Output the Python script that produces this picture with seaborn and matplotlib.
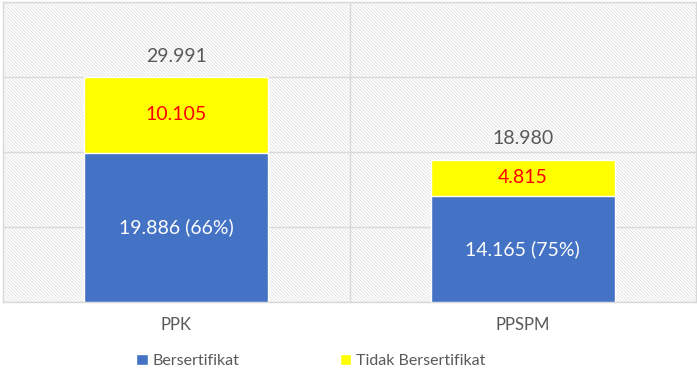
import matplotlib
matplotlib.use("Agg")
import matplotlib.pyplot as plt
from matplotlib.patches import Rectangle, Patch
import seaborn as sns
import pandas as pd

categories = ['PPK', 'PPSPM']
bersertifikat = [19886, 14165]
tidak_bersertifikat = [10105, 4815]
series_names = ['Bersertifikat', 'Tidak Bersertifikat']
y_ticks = [0, 10000, 20000, 30000, 40000]

blue = '#4472c4'
yellow = '#ffff00'
grey = '#d9d9d9'
text_grey = '#595959'

df = pd.DataFrame({'Kategori': categories,
                   'Bersertifikat': bersertifikat,
                   'Tidak Bersertifikat': tidak_bersertifikat})
df['Total'] = df['Bersertifikat'] + df['Tidak Bersertifikat']


def fmt(v):
    # indonesian thousands separator
    return f'{v:,}'.replace(',', '.')


sns.set_theme(style='white')
plt.rcParams['font.family'] = ['Lato', 'DejaVu Sans']
plt.rcParams['hatch.linewidth'] = 0.5

fig = plt.figure(figsize=(6.97, 3.79), dpi=100)
ax = fig.add_axes([3 / 697, 77 / 379, 693 / 697, 300 / 379])

# hatched background of the plot area
bg = Rectangle((0, 0), 1, 1, transform=ax.transAxes, facecolor='white',
               edgecolor='#dcdcdc', hatch='\\' * 10, lw=0, zorder=0)
ax.add_artist(bg)

sns.barplot(data=df, x='Kategori', y='Total', color=yellow, width=0.53,
            saturation=1, errorbar=None, ax=ax, zorder=2)
sns.barplot(data=df, x='Kategori', y='Bersertifikat', color=blue, width=0.53,
            saturation=1, errorbar=None, ax=ax, zorder=3)

ax.set_ylim(0, 40000)
ax.set_xlim(-0.5, 1.5)
ax.set_yticks(y_ticks)
ax.set_yticklabels([])
ax.yaxis.grid(True, color=grey, lw=1)
ax.set_axisbelow(True)
ax.axvline(0.5, color=grey, lw=1, zorder=0.6)
ax.tick_params(axis='y', length=0)
ax.tick_params(axis='x', length=0, pad=11, labelcolor=text_grey, labelsize=12)
ax.set_xlabel('')
ax.set_ylabel('')
for s in ax.spines.values():
    s.set_color(grey)
    s.set_linewidth(1)

for i, row in df.iterrows():
    b = row['Bersertifikat']
    t = row['Tidak Bersertifikat']
    tot = row['Total']
    pct = round(b / tot * 100)
    ax.text(i, tot + 2800, fmt(tot), ha='center', va='center',
            color=text_grey, fontsize=14, zorder=5)
    ax.text(i, b + t / 2, fmt(t), ha='center', va='center',
            color='#ff0000', fontsize=14, zorder=5)
    ax.text(i, b / 2, f'{fmt(b)} ({pct}%)', ha='center', va='center',
            color='white', fontsize=14, zorder=5)

handles = [Patch(facecolor=blue), Patch(facecolor=yellow)]
fig.legend(handles, series_names, loc='center left',
           bbox_to_anchor=(122 / 697, 1 - 361 / 379), ncol=2, frameon=False,
           handlelength=0.7, handleheight=0.7, handletextpad=0.3,
           columnspacing=6.3, fontsize=11.5, labelcolor=text_grey)

fig.savefig('out.png', dpi=100)
